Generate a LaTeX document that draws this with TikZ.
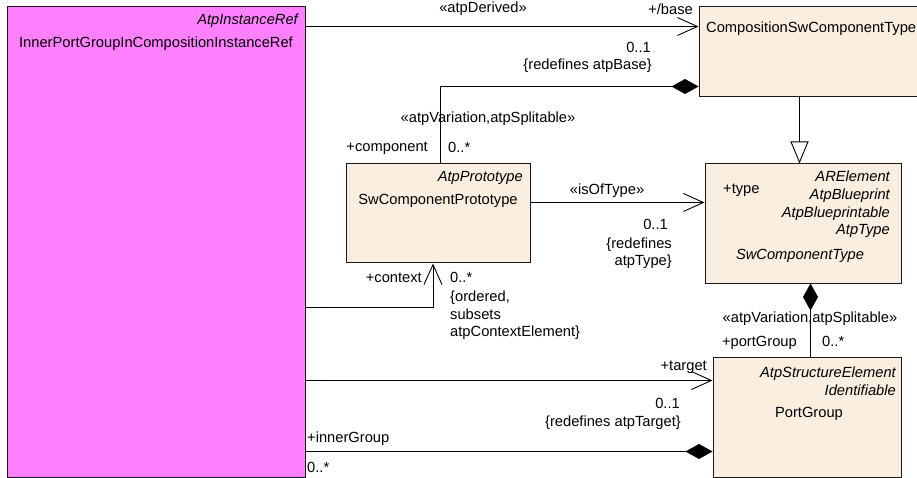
\documentclass[tikz,border=0pt]{standalone}
\usepackage{fontspec}
\setmainfont{Liberation Sans}
\usepackage{tikz}
\usetikzlibrary{
  arrows.meta,
  calc
}
\definecolor{UmlPink}{HTML}{FF80FF}
\definecolor{UmlBeige}{HTML}{F9EEDF}
\definecolor{UmlEdge}{HTML}{1A1A1A}
\newcommand{\UmlFont}{\fontsize{14.7bp}{17.6bp}\selectfont}
\tikzset{
  every picture/.style = {line join=miter, line cap=butt},
  every node/.style = {font=\UmlFont, text=black},
  uml class/.style = {
    draw=UmlEdge,
    fill=UmlBeige,
    line width=1.0bp,
    inner sep=0pt
  },
  uml ref/.style = {uml class, fill=UmlPink},
  txt/.style = {inner sep=0pt},
  stereo/.style = {txt, font=\UmlFont\itshape},
  assoc/.style = {draw=black, line width=0.9bp},
  nav/.style = {assoc, -{Straight Barb[length=20bp,width=18bp]}},
  compo/.style = {assoc, -{Diamond[length=27bp,width=15bp]}},
  gen/.style = {assoc, -{Triangle[open,length=22bp,width=18bp,fill=white]}},
}

\begin{document}
\begin{tikzpicture}[x=1bp,y=-1bp]
  \clip (0,0) rectangle (917,478);

  % classes
  \node[uml ref, minimum width=297bp, minimum height=470bp] (pink) at (156.5,242) {};
  \node[uml class, minimum width=224bp, minimum height=90bp] (comp) at (811,52) {};
  \node[uml class, minimum width=184bp, minimum height=99bp] (proto) at (438,213.5) {};
  \node[uml class, minimum width=196bp, minimum height=119bp] (swct) at (803,223.5) {};
  \node[uml class, minimum width=188bp, minimum height=119bp] (pg) at (807,417.5) {};

  \node[stereo, anchor=base east] at (298,25) {AtpInstanceRef};
  \node[txt, anchor=base] at (156,48) {InnerPortGroupInCompositionInstanceRef};
  \node[txt, anchor=base west] at (706,33) {CompositionSwComponentType};
  \node[stereo, anchor=base east] at (523,182) {AtpPrototype};
  \node[txt, anchor=base] at (438,205) {SwComponentPrototype};
  \node[stereo, anchor=base east] at (890,182) {ARElement};
  \node[stereo, anchor=base east] at (890,199.6) {AtpBlueprint};
  \node[stereo, anchor=base east] at (890,217.2) {AtpBlueprintable};
  \node[stereo, anchor=base east] at (890,234.8) {AtpType};
  \node[stereo, anchor=base] at (800,260) {SwComponentType};
  \node[stereo, anchor=base east] at (896,377) {AtpStructureElement};
  \node[stereo, anchor=base east] at (896,395) {Identifiable};
  \node[txt, anchor=base] at (809,417) {PortGroup};

  % connectors
  \draw[nav] ($(pink.north east)+(0,20)$) coordinate (derivedStart) -- (derivedStart -| comp.west);
  \draw[compo] ($(proto.north)+(2,0)$) |- ($(comp.south west)+(0,-11)$);
  \draw[gen] ($(comp.south west)+(101,0)$) coordinate (genStart) -- (genStart |- swct.north);
  \draw[nav] ($(proto.north east)+(0,39)$) coordinate (typeStart) -- (typeStart -| swct.west);
  \draw[nav] ($(pink.north east)+(0,301)$) -| ($(proto.south)+(-5,0)$);
  \draw[compo] ($(pg.north west)+(98,0)$) coordinate (groupStart) -- (groupStart |- swct.south);
  \draw[nav] ($(pink.north east)+(0,374)$) coordinate (targetStart) -- (targetStart -| pg.west);
  \draw[compo] ($(pink.north east)+(0,445)$) coordinate (innerStart) -- (innerStart -| pg.west);

  % labels
  \node[txt, anchor=base] at (483,13) {«atpDerived»};
  \node[txt, anchor=base east] at (693,15) {+/base};
  \node[txt, anchor=base east] at (651,53) {0..1};
  \node[txt, anchor=base east] at (652,70) {\{redefines atpBase\}};
  \node[txt, anchor=base] at (488,123) {«atpVariation,atpSplitable»};
  \node[txt, anchor=base east] at (428,152) {+component};
  \node[txt, anchor=base west] at (448,153) {0..*};
  \node[txt, anchor=base] at (607,195) {«isOfType»};
  \node[txt, anchor=base east] at (668,230) {0..1};
  \node[txt, anchor=base east] at (672,249) {\{redefines};
  \node[txt, anchor=base east] at (672,266) {atpType\}};
  \node[txt, anchor=base west] at (723,194) {+type};
  \node[txt, anchor=base east] at (422,283) {+context};
  \node[txt, anchor=base west] at (450,283) {0..*};
  \node[txt, anchor=base west] at (450,302) {\{ordered,};
  \node[txt, anchor=base west] at (450,320) {subsets};
  \node[txt, anchor=base west] at (450,337) {atpContextElement\}};
  \node[txt, anchor=base] at (810,323) {«atpVariation,atpSplitable»};
  \node[txt, anchor=base east] at (797,347) {+portGroup};
  \node[txt, anchor=base west] at (822,347) {0..*};
  \node[txt, anchor=base east] at (707,370) {+target};
  \node[txt, anchor=base east] at (680,408) {0..1};
  \node[txt, anchor=base east] at (681,426) {\{redefines atpTarget\}};
  \node[txt, anchor=base west] at (307,442) {+innerGroup};
  \node[txt, anchor=base west] at (307,472) {0..*};
\end{tikzpicture}
\end{document}
